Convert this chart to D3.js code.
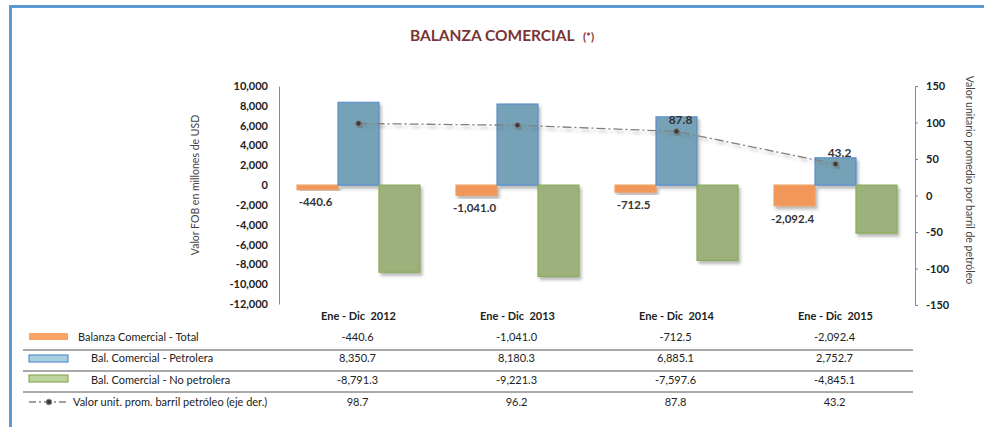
<!DOCTYPE html>
<html>
<head>
<meta charset="utf-8">
<script src="https://cdn.jsdelivr.net/npm/d3@7"></script>
<style>
  body { margin: 0; background: #fff; }
  svg text { font-family: Lato, "Noto Sans", sans-serif; fill: #222; white-space: pre; }
</style>
</head>
<body>
<svg width="984" height="427"></svg>
<script>
let width = 984,
    height = 427;

// data
let periods = ["Ene - Dic  2012", "Ene - Dic  2013", "Ene - Dic  2014", "Ene - Dic  2015"];
let total = [-440.6, -1041.0, -712.5, -2092.4];
let petrolera = [8350.7, 8180.3, 6885.1, 2752.7];
let noPetrolera = [-8791.3, -9221.3, -7597.6, -4845.1];
let barril = [98.7, 96.2, 87.8, 43.2];
let leftTicks = [10000, 8000, 6000, 4000, 2000, 0, -2000, -4000, -6000, -8000, -10000, -12000];
let rightTicks = [150, 100, 50, 0, -50, -100, -150];
let seriesNames = ["Balanza Comercial - Total", "Bal. Comercial - Petrolera", "Bal. Comercial - No petrolera"];
let lineName = "Valor unit. prom. barril petróleo (eje der.)";

let barColors = ["#f2975a", "#74a2b7", "#9db17c"];
let barStrokes = ["#f0a060", "#5b8fcf", "#8aad5a"];
let legendFills = ["#f9a463", "#a8cfdd", "#bcd49b"];

// plain hyphen as minus sign, like the original
let locale = d3.formatLocale({ decimal: ".", thousands: ",", grouping: [3], currency: ["$", ""], minus: "-" });
let fmt = locale.format(",.1f");
let fmtInt = locale.format(",");

let svg = d3.select("svg");

// drop shadow like the spreadsheet chart
let defs = svg.append("defs");
let shadow = defs.append("filter").attr("id", "shadow")
    .attr("x", "-20%").attr("y", "-20%").attr("width", "150%").attr("height", "150%");
shadow.append("feDropShadow")
    .attr("dx", 2).attr("dy", 3).attr("stdDeviation", 1.6)
    .attr("flood-color", "#666").attr("flood-opacity", 0.45);

// frame
svg.append("rect").attr("x", 9).attr("y", 5).attr("width", width).attr("height", 3).attr("fill", "#5b9bd5");
svg.append("rect").attr("x", 9).attr("y", 5).attr("width", 3).attr("height", height).attr("fill", "#5b9bd5");

// title
let title = svg.append("text").attr("x", 410).attr("y", 41)
    .style("font-size", "15.5px").style("font-weight", "bold");
title.append("tspan").text("BALANZA COMERCIAL").style("fill", "#7a3434");
title.append("tspan").text("   (*)").style("font-size", "11.5px").style("fill", "#8b3a3a");

// scales
let x0 = d3.scaleBand().domain(periods).range([279, 915]);
let x1 = d3.scaleBand().domain([0, 1, 2]).range([0, x0.bandwidth()]).paddingOuter(0.44);
let yL = d3.scaleLinear().domain([-12000, 10000]).range([304, 86]);
let yR = d3.scaleLinear().domain([-150, 150]).range([305, 86]);

// left axis
let leftAxis = svg.append("g").attr("transform", "translate(279,0)")
    .call(d3.axisLeft(yL).tickValues(leftTicks).tickSize(0).tickPadding(11).tickFormat(fmtInt));
leftAxis.select(".domain").attr("stroke", "#888");
leftAxis.selectAll("text").style("font-size", "11px").style("font-weight", "bold")
    .style("fill", "#222").style("font-family", "Lato, sans-serif");

// right axis
let rightAxis = svg.append("g").attr("transform", "translate(915,0)")
    .call(d3.axisRight(yR).tickValues(rightTicks).tickSize(3).tickSizeOuter(3).tickPadding(8).tickFormat(fmtInt));
rightAxis.select(".domain").attr("stroke", "#888");
rightAxis.selectAll(".tick line").attr("stroke", "#888");
rightAxis.selectAll("text").style("font-size", "11px").style("font-weight", "bold")
    .style("fill", "#222").style("font-family", "Lato, sans-serif");

// axis titles
svg.append("text").attr("transform", "translate(199,185) rotate(-90)")
    .attr("text-anchor", "middle").style("font-size", "10.5px").style("fill", "#444")
    .text("Valor FOB en millones de USD");
svg.append("text").attr("transform", "translate(966,180) rotate(90)")
    .attr("text-anchor", "middle").style("font-size", "10.5px").style("fill", "#444")
    .text("Valor unitario promedio por barril de petróleo");

// bars
let allSeries = [total, petrolera, noPetrolera];
let barData = [];
periods.forEach((p, i) => {
  allSeries.forEach((s, k) => barData.push({ period: p, k: k, value: s[i] }));
});

svg.append("g").attr("class", "bars")
  .selectAll("rect")
  .data(barData)
  .enter().append("rect")
    .attr("x", d => x0(d.period) + x1(d.k))
    .attr("width", x1.bandwidth())
    .attr("y", d => yL(Math.max(0, d.value)))
    .attr("height", d => Math.abs(yL(d.value) - yL(0)))
    .attr("fill", d => barColors[d.k])
    .attr("stroke", d => barStrokes[d.k])
    .attr("stroke-width", 1.2)
    .attr("filter", "url(#shadow)");

// labels under the total bars
svg.append("g")
  .selectAll("text")
  .data(periods)
  .enter().append("text")
    .attr("x", (d, i) => x0(d) + x1(0) + x1.bandwidth() / 2 - 2)
    .attr("y", (d, i) => yL(total[i]) + 17)
    .attr("text-anchor", "middle")
    .style("font-size", "11.5px").style("font-weight", "bold").style("fill", "#333")
    .text((d, i) => fmt(total[i]));

// line on right axis
let lineData = periods.map((p, i) => ({ x: x0(p) + x1(1) + x1.bandwidth() / 2, y: yR(barril[i]), v: barril[i], i: i }));
let line = d3.line().x(d => d.x).y(d => d.y);

svg.append("path").datum(lineData)
    .attr("d", line)
    .attr("fill", "none")
    .attr("stroke", "#808080")
    .attr("stroke-width", 1.3)
    .attr("stroke-dasharray", "9,3,2,3")
    .attr("filter", "url(#shadow)");

svg.append("g").selectAll("circle")
  .data(lineData)
  .enter().append("circle")
    .attr("cx", d => d.x).attr("cy", d => d.y).attr("r", 2.8)
    .attr("fill", "#3a3a3a").attr("stroke", "#888").attr("stroke-width", 1)
    .attr("filter", "url(#shadow)");

svg.append("g").selectAll("text")
  .data(lineData.filter(d => d.i >= 2))
  .enter().append("text")
    .attr("x", d => d.x + 4).attr("y", d => d.y - 7)
    .attr("text-anchor", "middle")
    .style("font-size", "12px").style("font-weight", "bold").style("fill", "#333")
    .text(d => fmt(d.v));

// data table
let headerY = 320;
let rowY = [341, 362, 384, 406];

svg.append("g").selectAll("text")
  .data(periods)
  .enter().append("text")
    .attr("x", d => x0(d) + x0.bandwidth() / 2)
    .attr("y", headerY)
    .attr("text-anchor", "middle")
    .style("font-size", "11px").style("font-weight", "bold")
    .text(d => d);

let tableRows = [total, petrolera, noPetrolera, barril];
tableRows.forEach((row, r) => {
  svg.append("g").selectAll("text")
    .data(row)
    .enter().append("text")
      .attr("x", (d, i) => x0(periods[i]) + x0.bandwidth() / 2 - 1)
      .attr("y", rowY[r])
      .attr("text-anchor", "middle")
      .style("font-size", "11px")
      .text(d => fmt(d));
});

// row separators
[350, 371, 392].forEach(y => {
  svg.append("line").attr("x1", 23).attr("x2", 913).attr("y1", y).attr("y2", y)
      .attr("stroke", "#8c8c8c").attr("stroke-width", 1.3);
});

// legend keys
let keyY = [333, 355, 375];
seriesNames.forEach((name, k) => {
  svg.append("rect").attr("x", 29).attr("y", keyY[k]).attr("width", 39).attr("height", 7)
      .attr("fill", legendFills[k])
      .attr("stroke", k === 0 ? "none" : barStrokes[k]).attr("stroke-width", 1.2);
  svg.append("text").attr("x", k === 0 ? 78 : 91).attr("y", rowY[k])
      .style("font-size", "11px").text(name);
});
svg.append("line").attr("x1", 29).attr("x2", 68).attr("y1", 402).attr("y2", 402)
    .attr("stroke", "#808080").attr("stroke-width", 1.3).attr("stroke-dasharray", "7,3,2,3");
svg.append("circle").attr("cx", 49).attr("cy", 402).attr("r", 2.8)
    .attr("fill", "#3a3a3a").attr("stroke", "#888");
svg.append("text").attr("x", 73).attr("y", rowY[3])
    .style("font-size", "11px").text(lineName);
</script>
</body>
</html>
